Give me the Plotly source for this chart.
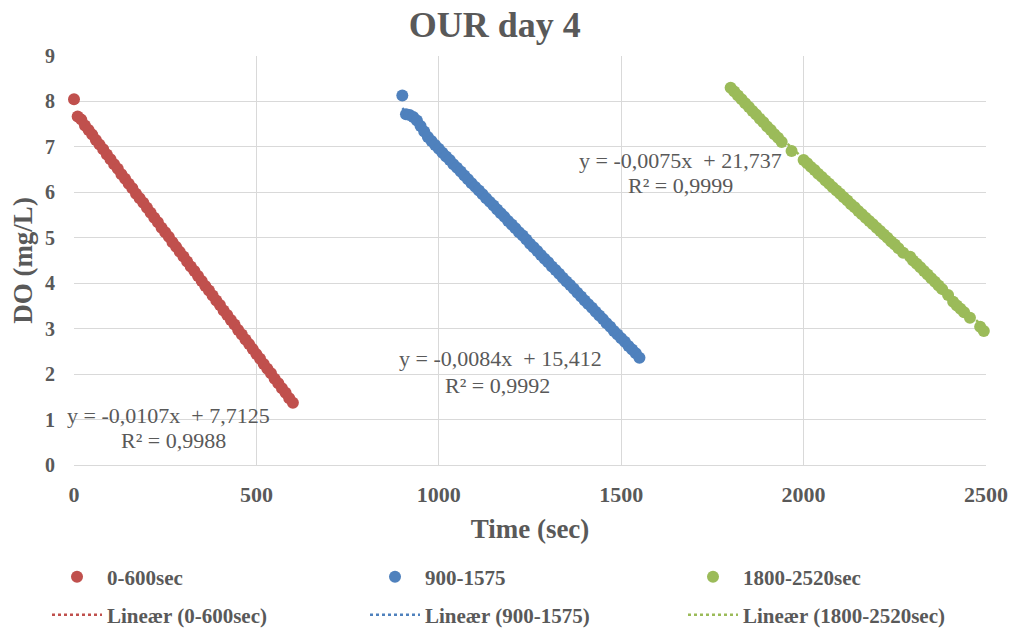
import plotly.graph_objects as go

# Dissolved oxygen logger readings (time in s, DO in mg/L) for the three windows
t_a = [0, 10, 20, 30, 40, 50, 60, 70, 80, 90,
       100, 110, 120, 130, 140, 150, 160, 170, 180, 190,
       200, 210, 220, 230, 240, 250, 260, 270, 280, 290,
       300, 310, 320, 330, 340, 350, 360, 370, 380, 390,
       400, 410, 420, 430, 440, 450, 460, 470, 480, 490,
       500, 510, 520, 530, 540, 550, 560, 570, 580, 590,
       600]
do_a = [8.05, 7.67, 7.60, 7.47, 7.37, 7.27, 7.15, 7.05, 6.95, 6.83,
        6.73, 6.62, 6.52, 6.40, 6.30, 6.19, 6.09, 5.97, 5.87, 5.77,
        5.66, 5.55, 5.44, 5.34, 5.22, 5.12, 5.02, 4.90, 4.80, 4.69,
        4.59, 4.48, 4.37, 4.27, 4.16, 4.05, 3.94, 3.84, 3.73, 3.62,
        3.52, 3.40, 3.30, 3.19, 3.09, 2.97, 2.87, 2.76, 2.66, 2.55,
        2.44, 2.34, 2.22, 2.12, 2.02, 1.90, 1.80, 1.69, 1.59, 1.47,
        1.37]

t_b = [900, 910, 920, 930, 940, 950, 960, 970, 980, 990,
       1000, 1010, 1020, 1030, 1040, 1050, 1060, 1070, 1080, 1090,
       1100, 1110, 1120, 1130, 1140, 1150, 1160, 1170, 1180, 1190,
       1200, 1210, 1220, 1230, 1240, 1250, 1260, 1270, 1280, 1290,
       1300, 1310, 1320, 1330, 1340, 1350, 1360, 1370, 1380, 1390,
       1400, 1410, 1420, 1430, 1440, 1450, 1460, 1470, 1480, 1490,
       1500, 1510, 1520, 1530, 1540, 1550]
do_b = [8.13, 7.72, 7.70, 7.66, 7.58, 7.46, 7.34, 7.22, 7.13, 7.04,
        6.96, 6.87, 6.79, 6.71, 6.62, 6.54, 6.46, 6.37, 6.29, 6.20,
        6.12, 6.04, 5.96, 5.87, 5.79, 5.71, 5.62, 5.54, 5.46, 5.37,
        5.29, 5.21, 5.12, 5.05, 4.96, 4.87, 4.79, 4.71, 4.62, 4.54,
        4.46, 4.37, 4.29, 4.21, 4.12, 4.04, 3.96, 3.88, 3.79, 3.71,
        3.62, 3.54, 3.46, 3.37, 3.29, 3.21, 3.12, 3.04, 2.95, 2.87,
        2.79, 2.71, 2.62, 2.54, 2.46, 2.36]

t_c = [1800, 1810, 1820, 1830, 1840, 1850, 1860, 1870, 1880, 1890,
       1900, 1910, 1920, 1930, 1940, 1967, 2000, 2010, 2020, 2030,
       2040, 2050, 2060, 2070, 2080, 2090, 2100, 2110, 2120, 2130,
       2140, 2150, 2160, 2170, 2180, 2190, 2200, 2210, 2220, 2230,
       2240, 2250, 2260, 2273, 2292, 2300, 2310, 2320, 2330, 2340,
       2350, 2360, 2370, 2380, 2396, 2410, 2420, 2430, 2440, 2456,
       2484, 2494, 2505]
do_c = [8.30, 8.22, 8.13, 8.05, 7.96, 7.88, 7.79, 7.71, 7.62, 7.54,
        7.45, 7.37, 7.28, 7.20, 7.11, 6.91, 6.71, 6.64, 6.56, 6.49,
        6.41, 6.34, 6.26, 6.19, 6.11, 6.04, 5.97, 5.89, 5.82, 5.74,
        5.67, 5.59, 5.52, 5.44, 5.37, 5.30, 5.22, 5.15, 5.07, 5.00,
        4.92, 4.85, 4.77, 4.67, 4.58, 4.50, 4.43, 4.35, 4.27, 4.19,
        4.11, 4.03, 3.95, 3.87, 3.74, 3.59, 3.51, 3.44, 3.36, 3.24,
        3.04, 2.95, 2.82]

series_names = ["0-600sec", "900-1575", "1800-2520sec"]
trend_names = ["Lineær (0-600sec)", "Lineær (900-1575)", "Lineær (1800-2520sec)"]
slopes = [-0.0107, -0.0084, -0.0075]
intercepts = [7.7125, 15.412, 21.737]
r_squared = ["0,9988", "0,9992", "0,9999"]
eq_labels = ["y = -0,0107x  + 7,7125", "y = -0,0084x  + 15,412", "y = -0,0075x  + 21,737"]
colors = ["#C0504D", "#4F81BD", "#9BBB59"]

times = [t_a, t_b, t_c]
values = [do_a, do_b, do_c]

SERIF = "Liberation Serif"
TEXT = "#595959"
W, H = 1012, 635
fig = go.Figure()

# one legend box per entry: markers on the first row, trend lines on the second
legend_cols = [47, 365, 683]          # left edge of each legend column (px)
legend_rows = [577, 615]              # vertical centre of each legend row (px)
legend_layout = {}
for row in range(2):
    for col in range(3):
        key = "legend" if row == 0 and col == 0 else f"legend{row * 3 + col + 1}"
        legend_layout[key] = dict(
            orientation="h", xanchor="left", yanchor="middle",
            xref="container", yref="container",
            x=legend_cols[col] / W, y=1 - legend_rows[row] / H,
            itemwidth=50,
            font=dict(family=SERIF, size=21, color=TEXT, weight="bold"),
            bgcolor="rgba(0,0,0,0)",
        )

# linear trend lines, drawn beneath the markers
for i in range(3):
    x0, x1 = times[i][0], times[i][-1]
    fig.add_trace(go.Scatter(
        x=[x0, x1],
        y=[slopes[i] * x0 + intercepts[i], slopes[i] * x1 + intercepts[i]],
        mode="lines", name=trend_names[i], legend=f"legend{4 + i}",
        line=dict(color=colors[i], width=2.5, dash="dot"),
        hoverinfo="skip", cliponaxis=False,
    ))

for i in range(3):
    fig.add_trace(go.Scatter(
        x=times[i], y=values[i], mode="markers", name=series_names[i],
        marker=dict(color=colors[i], size=12),
        legend="legend" if i == 0 else f"legend{1 + i}",
        cliponaxis=False,
    ))

# regression equation and R² labels (x, y of each line's centre)
eq_pos = [(258, 1.08), (1168, 2.35), (1662, 6.71)]
r2_pos = [(274, 0.53), (1162, 1.76), (1662, 6.14)]
for i in range(3):
    fig.add_annotation(
        x=eq_pos[i][0], y=eq_pos[i][1], xref="x", yref="y",
        text=eq_labels[i].replace("  ", "&nbsp; "), showarrow=False,
        font=dict(family=SERIF, size=22, color=TEXT),
    )
    fig.add_annotation(
        x=r2_pos[i][0], y=r2_pos[i][1], xref="x", yref="y",
        text=f"R² = {r_squared[i]}", showarrow=False,
        font=dict(family=SERIF, size=22, color=TEXT),
    )

grid = "#D9D9D9"

fig.update_layout(
    width=W, height=H,
    margin=dict(l=74, r=26, t=56, b=170, autoexpand=False),
    paper_bgcolor="white", plot_bgcolor="white",
    title=dict(text="OUR day 4", x=0.489, xanchor="center", y=0.961, yanchor="middle",
               font=dict(family=SERIF, size=36, color=TEXT, weight="bold")),
    xaxis=dict(
        range=[0, 2500], dtick=500, tick0=0, automargin=False,
        showgrid=True, gridcolor=grid, gridwidth=1,
        showline=True, linecolor=grid, zeroline=False,
        ticks="outside", ticklen=10, tickcolor="rgba(0,0,0,0)",
        tickfont=dict(family=SERIF, size=22, color=TEXT, weight="bold"),
        title=dict(text="Time (sec)", standoff=12,
                   font=dict(family=SERIF, size=27, color=TEXT, weight="bold")),
    ),
    yaxis=dict(
        range=[0, 9], dtick=1, tick0=0, automargin=False,
        showgrid=True, gridcolor=grid, gridwidth=1,
        showline=False, zeroline=False,
        ticks="outside", ticklen=14, tickcolor="rgba(0,0,0,0)",
        tickfont=dict(family=SERIF, size=20, color=TEXT, weight="bold"),
        title=dict(text="DO (mg/L)", standoff=4,
                   font=dict(family=SERIF, size=27, color=TEXT, weight="bold")),
    ),
    showlegend=True,
    **legend_layout,
)

fig.write_html("out.html")
